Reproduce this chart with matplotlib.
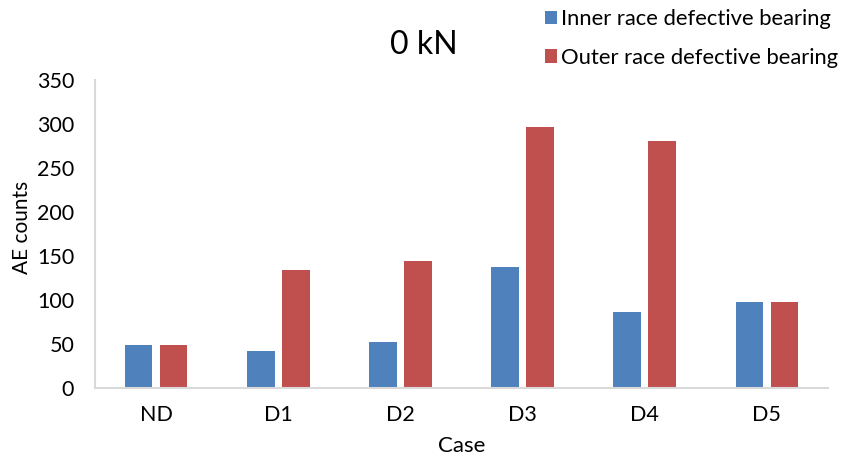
import matplotlib
matplotlib.use("Agg")
import matplotlib.pyplot as plt
import numpy as np

cases = ["ND", "D1", "D2", "D3", "D4", "D5"]
inner_race = [49, 42, 52, 137, 86, 98]
outer_race = [49, 134, 144, 297, 281, 98]
series_labels = ["Inner race defective bearing", "Outer race defective bearing"]
y_ticks = [0, 50, 100, 150, 200, 250, 300, 350]

plt.rcParams["font.family"] = ["Lato", "DejaVu Sans"]

fig = plt.figure(figsize=(8.44, 4.72), dpi=100)
ax = fig.add_axes([95 / 844, 1 - 388 / 472, 733 / 844, 308 / 472])

x = np.arange(len(cases))
w = 0.227
gap = 0.06
b1 = ax.bar(x - (w + gap) / 2, inner_race, w, color="#4F81BD", label=series_labels[0])
b2 = ax.bar(x + (w + gap) / 2, outer_race, w, color="#C0504D", label=series_labels[1])

ax.set_xlim(-0.5, len(cases) - 0.5)
ax.set_ylim(0, 350)
ax.set_yticks(y_ticks)
ax.set_xticks(x)
ax.set_xticklabels(cases)
ax.tick_params(axis="both", length=0, labelsize=15.5, colors="black")
ax.tick_params(axis="y", pad=15)
ax.tick_params(axis="x", pad=12)

for side in ["top", "right"]:
    ax.spines[side].set_visible(False)
for side in ["left", "bottom"]:
    ax.spines[side].set_color("#D9D9D9")
    ax.spines[side].set_linewidth(1.5)

ax.set_xlabel("Case", fontsize=16, labelpad=8)
fig.text(22 / 844, 1 - 227 / 472, "AE counts", fontsize=15, rotation=90,
         ha="center", va="center")

fig.text(424 / 844, 1 - 45 / 472, "0 kN", fontsize=23, ha="center", va="center")

fig.legend(handles=[b1, b2], loc="upper left", bbox_to_anchor=(545 / 844, 1 - 9 / 472),
           frameon=False, fontsize=15.8, handlelength=0.55, handleheight=0.55,
           handletextpad=0.2, labelspacing=0.85, borderpad=0, borderaxespad=0)

fig.savefig("out.png", dpi=100)
